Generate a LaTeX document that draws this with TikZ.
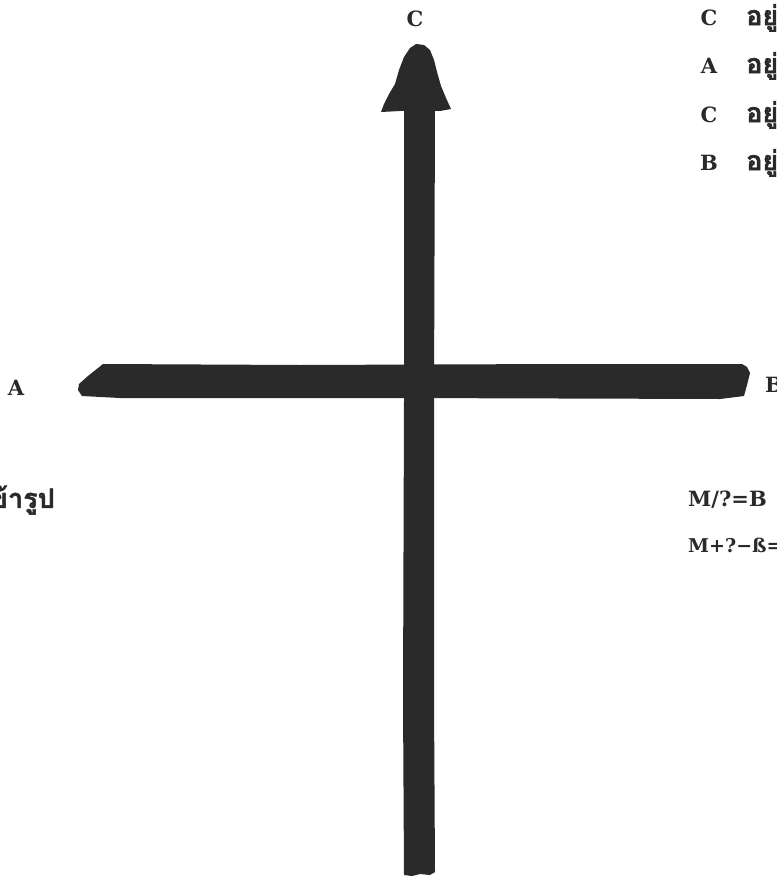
\documentclass[tikz,border=0pt]{standalone}
\usepackage{fontspec}
\setmainfont{DejaVu Serif}[BoldFont={DejaVu Serif Bold}]
\newfontfamily\thaifont[Script=Thai,FakeBold=1.5]{Loma}
\definecolor{ink}{HTML}{2A2A2A}
\tikzset{
  lbl/.style={font=\fontsize{21}{24}\selectfont\bfseries, text=ink, inner sep=0pt},
  thai/.style={font=\thaifont\fontsize{27}{30}\selectfont\bfseries, text=ink, inner sep=0pt},
  bar/.style={fill=ink, draw=none}
}
\begin{document}
\begin{tikzpicture}[x=1pt,y=-1pt]
\useasboundingbox (0,0) rectangle (776,880);
\clip (0,0) rectangle (776,880);
\fill[white] (0,0) rectangle (776,880);
% horizontal bar
\fill[bar] (103,364) -- (300,365) -- (560,364) -- (742,364) -- (747,367) -- (750,373)
  -- (747,385) -- (744,396) -- (720,399) -- (400,398) -- (120,398) -- (82,396)
  -- (78,390) -- (79,384) -- (88,376) -- cycle;
% vertical bar
\fill[bar] (404,108) -- (435,108) -- (434,400) -- (434,700) -- (435,872)
  -- (430,875) -- (420,874) -- (412,876) -- (404,875) -- (403,700) -- (404,400) -- cycle;
% arrow head
\fill[bar] (381,112) -- (384,104) -- (389,94) -- (395,84) -- (399,70) -- (404,57)
  -- (410,48) -- (416,44) -- (424,45) -- (430,50) -- (434,60) -- (437,72) -- (441,86)
  -- (446,98) -- (451,109) -- (440,111) -- (420,110) -- (400,111) -- cycle;
% labels
\node[lbl] (lC) at (415,19) {C};
\node[lbl] (lA) at (16,388) {A};
\node[lbl, anchor=west] (lB) at (765,385) {B};
% right column
\node[lbl] (r1) at (709,18) {C};
\node[lbl] (r2) at (709,66) {A};
\node[lbl] (r3) at (709,115) {C};
\node[lbl] (r4) at (709,163) {B};
\node[thai, anchor=west] (t1) at (746,18) {อยู่};
\node[thai, anchor=west] (t2) at (746,66) {อยู่};
\node[thai, anchor=west] (t3) at (746,115) {อยู่};
\node[thai, anchor=west] (t4) at (746,163) {อยู่};
% left thai
\node[thai, anchor=east] (lt) at (55,500) {เข้ารูป};
% formulas
\node[lbl, anchor=west] (f1) at (688,500) {M/?=B};
\node[lbl, anchor=west, font=\fontsize{19}{22}\selectfont\bfseries] (f2) at (688,545) {M+?−ß=};
\end{tikzpicture}
\end{document}
